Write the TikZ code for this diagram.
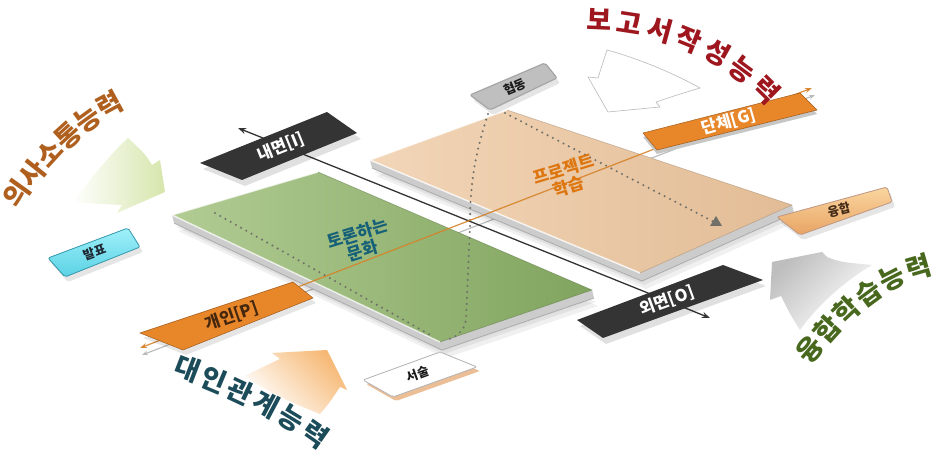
\documentclass[tikz,border=0pt]{standalone}
\usepackage{fontspec}
\newfontfamily\kr{Noto Sans CJK KR}
\usetikzlibrary{decorations.text,arrows.meta,calc}
\definecolor{brn}{RGB}{176,96,30}
\definecolor{rd}{RGB}{158,22,30}
\definecolor{tl}{RGB}{28,76,90}
\definecolor{olv}{RGB}{72,104,30}
\definecolor{grnL}{RGB}{178,204,148}
\definecolor{grnR}{RGB}{128,164,94}
\definecolor{orL}{RGB}{242,214,184}
\definecolor{orR}{RGB}{226,188,150}
\definecolor{dbox}{RGB}{52,52,52}
\definecolor{obox}{RGB}{232,134,42}
\definecolor{axo}{RGB}{214,130,40}
\definecolor{dotc}{RGB}{112,112,104}
\definecolor{slabc}{RGB}{204,204,204}
\definecolor{gtxt}{RGB}{22,96,120}
\definecolor{otxt}{RGB}{222,118,16}
\definecolor{ptxt}{RGB}{70,40,15}
\definecolor{cyT}{RGB}{160,240,250}
\definecolor{cyB}{RGB}{90,210,228}
\definecolor{cyE}{RGB}{50,150,170}
\definecolor{cytx}{RGB}{30,40,50}
\definecolor{fuT}{RGB}{250,214,160}
\definecolor{fuB}{RGB}{232,164,100}
\definecolor{fuE}{RGB}{190,150,130}
\definecolor{futx}{RGB}{70,45,25}
\definecolor{peach}{RGB}{236,190,150}
\definecolor{arG}{RGB}{214,230,172}
\definecolor{arGr}{RGB}{190,190,190}
\definecolor{arO}{RGB}{246,184,116}
\begin{document}
\begin{tikzpicture}[x=1pt,y=1pt,
  boxtxt/.style={font=\kr\bfseries\fontsize{16.5}{16.5}\selectfont, inner sep=0pt},
  smalltxt/.style={font=\kr\bfseries\fontsize{12.5}{12.5}\selectfont, inner sep=0pt},
  dotline/.style={draw=dotc, line width=2.3pt, line cap=round, dash pattern=on 0pt off 6pt},
  slab/.style={fill=slabc},
  bshadow/.style={fill=black, opacity=.06},
  paneltxt/.style={font=\kr\bfseries\fontsize{17}{18}\selectfont, inner sep=0pt, align=center},
  curvtxt/.style={decorate, decoration={text along path, text align={fit to path}, text color=#1}},
]
\useasboundingbox (0,0) rectangle (935,454);
\fill[white] (0,0) rectangle (935,454);

% axis end coordinates
\coordinate (iT) at (238,326);
\coordinate (oT) at (710,136);
\coordinate (pT) at (140,106);
\coordinate (gT) at (812,366);

% panel corners
\coordinate (gA) at (172,239); \coordinate (gB) at (318,282);
\coordinate (gC) at (592,164); \coordinate (gD) at (440,112);
\coordinate (oA) at (370,294); \coordinate (oB) at (507,344);
\coordinate (oC) at (792,249); \coordinate (oD) at (640,181);

% shadow copy of orange axis
\draw[gray!55, line width=1.1pt, {Stealth[length=6pt]}-{Stealth[length=6pt]}] ($(pT)+(2,-7)$) -- ($(gT)+(3,-7)$);

% panel shadows
\foreach \ox/\oy in {6/-16,4/-12,2/-9}{
  \fill[bshadow] ($(gA)+(\ox,\oy)$) -- ($(gB)+(\ox,\oy)$) -- ($(gC)+(\ox,\oy)$) -- ($(gD)+(\ox,\oy)$) -- cycle;
  \fill[bshadow] ($(oA)+(\ox,\oy)$) -- ($(oB)+(\ox,\oy)$) -- ($(oC)+(\ox,\oy)$) -- ($(oD)+(\ox,\oy)$) -- cycle;
}
% green panel slab and face
\fill[slab] (gA) -- ($(gA)+(2,-8)$) -- ($(gD)+(2,-8)$) -- ($(gC)+(2,-8)$) -- (gC) -- (gD) -- cycle;
\draw[gray!70, line width=.6pt] ($(gA)+(2,-8)$) -- ($(gD)+(2,-8)$) -- ($(gC)+(2,-8)$);
\shade[left color=grnL, right color=grnR] (gA) -- (gB) -- (gC) -- (gD) -- cycle;
\draw[white, opacity=.75, line width=1.4pt, line join=round] (gD) -- (gA) -- (gB);
\draw[grnR!70!black, opacity=.5, line width=.6pt] (gB) -- (gC) -- (gD);
% orange panel slab and face
\fill[slab] (oA) -- ($(oA)+(2,-8)$) -- ($(oD)+(2,-8)$) -- ($(oC)+(2,-8)$) -- (oC) -- (oD) -- cycle;
\draw[gray!70, line width=.6pt] ($(oA)+(2,-8)$) -- ($(oD)+(2,-8)$) -- ($(oC)+(2,-8)$);
\shade[left color=orL, right color=orR] (oA) -- (oB) -- (oC) -- (oD) -- cycle;
\draw[white, opacity=.8, line width=1.4pt, line join=round] (oD) -- (oA) -- (oB);
\draw[orR!70!black, opacity=.5, line width=.6pt] (oB) -- (oC) -- (oD);

% dotted paths
\draw[dotline] (215,241) -- (432,118);
\draw[dotline] (488,340) .. controls (475,300) and (470,270) .. (470,230) -- (466,134) .. controls (464,122) and (455,116) .. (446,114);
\draw[dotline] (505,341) -- (716,231);
\fill[dotc] (722,228) -- (710,228) -- (716,238) -- cycle;

% black axis
\draw[dbox, line width=1.3pt, {Stealth[length=8pt,width=6pt]}-{Stealth[length=8pt,width=6pt]}] (iT) -- (oT);
% orange axis
\draw[axo, line width=1.2pt, opacity=.9, {Stealth[length=7pt,width=5pt]}-{Stealth[length=7pt,width=5pt]}] (pT) -- (gT);

% panel texts
\node[paneltxt, text=gtxt, rotate=17] (gtext) at (360,212) {토론하는\\문화};
\node[paneltxt, text=otxt, rotate=17] (otext) at (566,276) {프로젝트\\학습};

% ---- label boxes ----
% inner [I]
\fill[black,opacity=.12] (203,285) -- (330,336) -- (361,315) -- (245,268) -- cycle;
\fill[dbox] (200,291) -- (327,342) -- (357,321) -- (242,274) -- cycle;
\node[boxtxt, text=white, rotate=22] (inner) at (281,307) {내면[I]};
% outer [O]
\fill[black,opacity=.12] (580,128) -- (726,183) -- (766,168) -- (606,110) -- cycle;
\fill[dbox] (577,134) -- (723,189) -- (763,174) -- (603,116) -- cycle;
\node[boxtxt, text=white, rotate=20] (outer) at (667,153) {외면[O]};
% personal [P]
\fill[black,opacity=.10] (143,116) -- (296,167) -- (316,151) -- (186,99) -- cycle;
\fill[obox, draw=obox!70!black, line width=.5pt] (140,121) -- (293,172) -- (313,156) -- (183,104) -- cycle;
\node[boxtxt, text=ptxt, rotate=19] (pers) at (232,138) {개인[P]};
% group [G]
\fill[gray!45] (643,317) -- (800,357) -- (817,340) -- (657,300) -- cycle;
\fill[obox, draw=obox!70!black, line width=.5pt] (643,321) -- (800,361) -- (817,344) -- (657,304) -- cycle;
\node[boxtxt, text=white, rotate=16] (grp) at (729,332) {단체[G]};
% presentation
\fill[black,opacity=.10, rounded corners=2pt] (51,191) -- (131,221) -- (143,202) -- (68,172) -- cycle;
\shade[top color=cyT, bottom color=cyB, rounded corners=2pt] (48,196) -- (128,226) -- (140,207) -- (65,177) -- cycle;
\draw[cyE, line width=.8pt, rounded corners=2pt] (48,196) -- (65,177) -- (140,207) -- (128,226) -- cycle;
\node[smalltxt, text=cytx, rotate=20] (pres) at (95,202) {발표};
% cooperation
\fill[black,opacity=.10, rounded corners=2pt] (473,354) -- (548,386) -- (560,371) -- (493,339) -- cycle;
\fill[gray!50, draw=gray!70, line width=1.2pt, rounded corners=2pt] (470,359) -- (545,391) -- (557,376) -- (490,344) -- cycle;
\node[smalltxt, text=gray!20!black, rotate=23] (coop) at (515,367) {협동};
% fusion
\fill[black,opacity=.10, rounded corners=2pt] (780,232) -- (890,262) -- (895,247) -- (803,214) -- cycle;
\shade[top color=fuT, bottom color=fuB, rounded corners=2pt] (777,237) -- (887,267) -- (892,252) -- (800,219) -- cycle;
\draw[fuE, line width=.8pt, rounded corners=2pt] (777,237) -- (887,267) -- (892,252) -- (800,219) -- cycle;
\node[smalltxt, text=futx, rotate=15] (fus) at (839,244) {융합};
% description
\fill[peach, rounded corners=2pt] (366,70) -- (443,98) -- (480,83) -- (396,53) -- cycle;
\fill[white, draw=gray!60, line width=.8pt, rounded corners=2pt] (363,74) -- (440,102) -- (477,87) -- (393,57) -- cycle;
\node[smalltxt, text=gray!20!black, rotate=20] (desc) at (418,80) {서술};

% ---- big arrows ----
\shade[left color=white, right color=arG]
  (165,262) -- (160,294) -- (152,289) .. controls (145,300) .. (128,316)
  .. controls (100,290) and (85,265) .. (72,252) .. controls (100,250) .. (122,249) -- (117,241) -- cycle;
\fill[white, draw=gray!55, line width=.6pt]
  (608,342) -- (588,377) -- (598,376) .. controls (602,390) .. (607,404)
  .. controls (640,395) and (675,380) .. (700,366) .. controls (680,360) .. (656,352) -- (660,347) -- cycle;
\shade[top color=arGr, bottom color=white, shading angle=45]
  (772,192) -- (822,202) -- (827,197) .. controls (840,192) .. (872,189)
  .. controls (840,170) and (815,145) .. (800,124) .. controls (790,140) .. (781,158) -- (770,154) -- cycle;
\shade[top color=arO, bottom color=white, shading angle=-45]
  (327,104) -- (272,101) -- (280,95) .. controls (265,88) .. (245,78)
  .. controls (270,60) and (300,48) .. (320,40) .. controls (330,52) .. (340,67) -- (347,64) -- cycle;

% ---- curved labels ----
\path[curvtxt=brn, decoration={text={|\kr\bfseries\fontsize{27}{27}\selectfont|의사소통능력}}]
  (18,244) .. controls (48,288) and (82,326) .. (126,346);
\path[curvtxt=rd, decoration={text={|\kr\bfseries\fontsize{27}{27}\selectfont|보고서작성능력}}]
  (586,424) .. controls (660,424) and (726,395) .. (768,348);
\path[curvtxt=tl, decoration={text={|\kr\bfseries\fontsize{27}{27}\selectfont|대인관계능력}}]
  (172,80) .. controls (220,62) and (272,40) .. (320,4);
\path[curvtxt=olv, decoration={text={|\kr\bfseries\fontsize{27}{27}\selectfont|융합학습능력}}]
  (810,88) .. controls (845,130) and (880,170) .. (933,180);
\end{tikzpicture}
\end{document}
